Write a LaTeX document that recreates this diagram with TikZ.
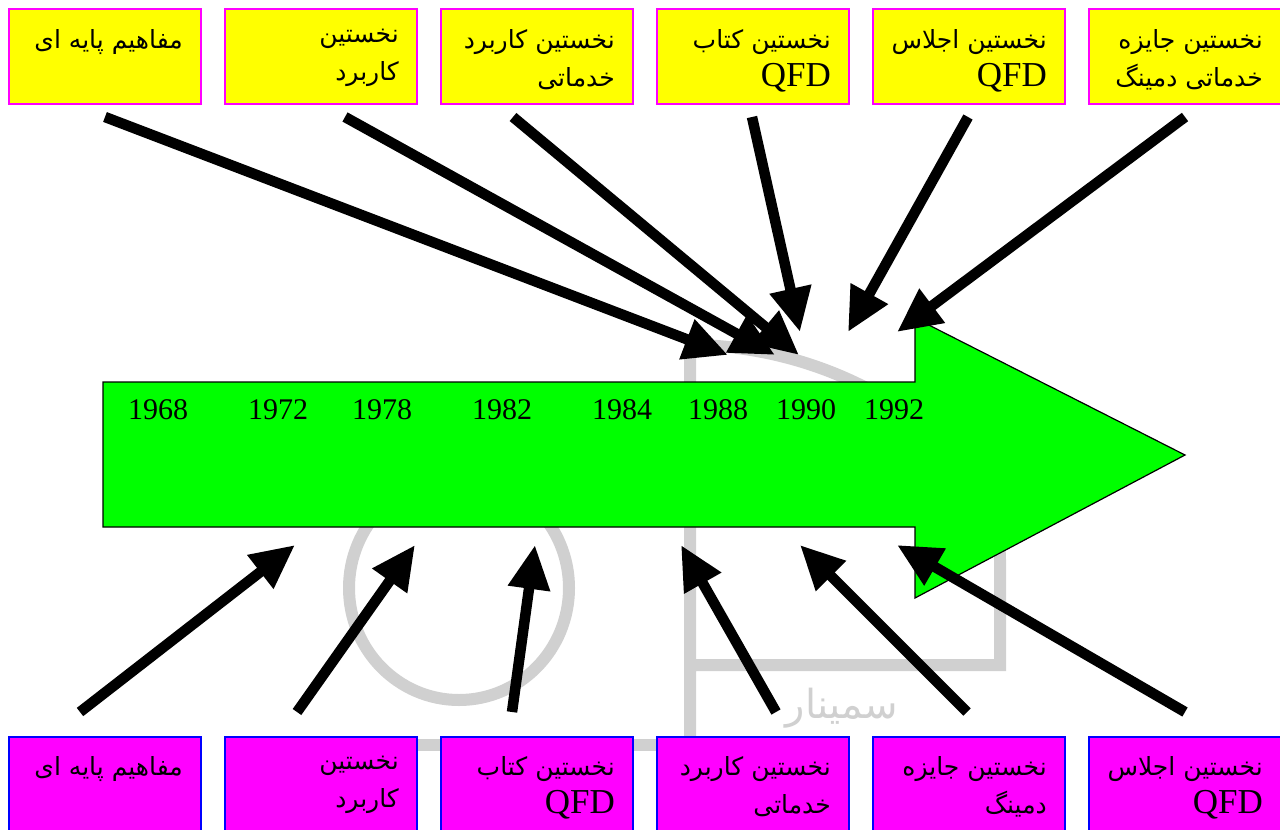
\documentclass[tikz,border=0pt]{standalone}
\usepackage{fontspec}
\setmainfont{Liberation Serif}
\newfontfamily\arabicfont[Script=Arabic]{DejaVu Sans}
\TeXXeTstate=1
\usetikzlibrary{arrows.meta}
\newcommand{\fa}[1]{{\arabicfont\beginR #1\endR}}
\newcommand{\qfd}{{\fontsize{35}{38}\selectfont QFD}}
\definecolor{wm}{HTML}{D0D0D0}
\definecolor{boxyellow}{HTML}{FFFF00}
\definecolor{boxmag}{HTML}{FF00FF}
\definecolor{arrgreen}{HTML}{00FF00}
\begin{document}
\begin{tikzpicture}[x=1pt,y=-1pt,
  topbox/.style={draw=boxmag, fill=boxyellow, line width=1.5pt, anchor=north west, minimum width=192pt, minimum height=95pt, inner sep=0pt},
  botbox/.style={draw=blue, fill=boxmag, line width=1.5pt, anchor=north west, minimum width=192pt, minimum height=110pt, inner sep=0pt},
  lbl/.style={anchor=north east, align=right, inner sep=0pt, font=\fontsize{25}{38}\selectfont},
  year/.style={font=\fontsize{30}{30}\selectfont, inner sep=0pt},
  arr/.style={line width=10.5pt, -{Triangle[length=44pt,width=40pt]}},
  wmline/.style={draw=wm, line width=12pt}]
\useasboundingbox (0,0) rectangle (1280,830);
\fill[white] (0,0) rectangle (1280,830);
% watermark
\draw[wmline] (459,588) ellipse[x radius=110, y radius=112];
\draw[wmline] (690,840) -- (690,345) .. controls (850,345) and (1000,450) .. (1000,560) -- (1000,665) -- (690,665);
\draw[wmline] (350,745) -- (690,745);
\node[text=wm, font=\arabicfont\fontsize{40}{40}\selectfont] (wmtext) at (842,708) {\beginR سمینار\endR};
% main arrow
\draw[fill=arrgreen, draw=black, line width=1.2pt] (103,382) -- (915,382) -- (915,318) -- (1185,455) -- (915,598) -- (915,527) -- (103,527) -- cycle;
\node[coordinate] (mainarrow) at (640,455) {};
% years
\node[year] (y1968) at (158,410) {1968};
\node[year] (y1972) at (278,410) {1972};
\node[year] (y1978) at (382,410) {1978};
\node[year] (y1982) at (502,410) {1982};
\node[year] (y1984) at (622,410) {1984};
\node[year] (y1988) at (718,410) {1988};
\node[year] (y1990) at (806,410) {1990};
\node[year] (y1992) at (894,410) {1992};
% top boxes
\node[topbox] (t1) at (8,8) {};
\node[topbox] (t2) at (224,8) {};
\node[topbox] (t3) at (440,8) {};
\node[topbox] (t4) at (656,8) {};
\node[topbox] (t5) at (872,8) {};
\node[topbox] (t6) at (1088,8) {};
\node[lbl] (t1l) at (183,29) {\fa{مفاهیم پایه ای}};
\node[lbl] (t2l) at (399,29) {\fa{نخستین}\\\fa{کاربرد}};
\node[lbl] (t3l) at (615,29) {\fa{نخستین کاربرد}\\\fa{خدماتی}};
\node[lbl] (t4l) at (831,29) {\fa{نخستین کتاب}\\\qfd};
\node[lbl] (t5l) at (1047,29) {\fa{نخستین اجلاس}\\\qfd};
\node[lbl] (t6l) at (1263,29) {\fa{نخستین جایزه}\\\fa{خدماتی دمینگ}};
% bottom boxes
\node[botbox] (b1) at (8,736) {};
\node[botbox] (b2) at (224,736) {};
\node[botbox] (b3) at (440,736) {};
\node[botbox] (b4) at (656,736) {};
\node[botbox] (b5) at (872,736) {};
\node[botbox] (b6) at (1088,736) {};
\node[lbl] (b1l) at (183,756) {\fa{مفاهیم پایه ای}};
\node[lbl] (b2l) at (399,756) {\fa{نخستین}\\\fa{کاربرد}};
\node[lbl] (b3l) at (615,756) {\fa{نخستین کتاب}\\\qfd};
\node[lbl] (b4l) at (831,756) {\fa{نخستین کاربرد}\\\fa{خدماتی}};
\node[lbl] (b5l) at (1047,756) {\fa{نخستین جایزه}\\\fa{دمینگ}};
\node[lbl] (b6l) at (1263,756) {\fa{نخستین اجلاس}\\\qfd};
% arrow end points
\coordinate (ts1) at (105,117);  \coordinate (te1) at (728,355);
\coordinate (ts2) at (345,117);  \coordinate (te2) at (775,355);
\coordinate (ts3) at (513,117);  \coordinate (te3) at (799,355);
\coordinate (ts4) at (752,117);  \coordinate (te4) at (800,332);
\coordinate (ts5) at (968,117);  \coordinate (te5) at (848,332);
\coordinate (ts6) at (1185,117); \coordinate (te6) at (897,332);
\coordinate (bs1) at (80,712);   \coordinate (be1) at (295,545);
\coordinate (bs2) at (297,712);  \coordinate (be2) at (415,545);
\coordinate (bs3) at (512,712);  \coordinate (be3) at (535,545);
\coordinate (bs4) at (776,712);  \coordinate (be4) at (681,545);
\coordinate (bs5) at (967,712);  \coordinate (be5) at (800,545);
\coordinate (bs6) at (1185,712); \coordinate (be6) at (897,545);
\foreach \i in {1,...,6} {
  \draw[arr] (ts\i) -- (te\i);
  \draw[arr] (bs\i) -- (be\i);
}
\end{tikzpicture}
\end{document}
